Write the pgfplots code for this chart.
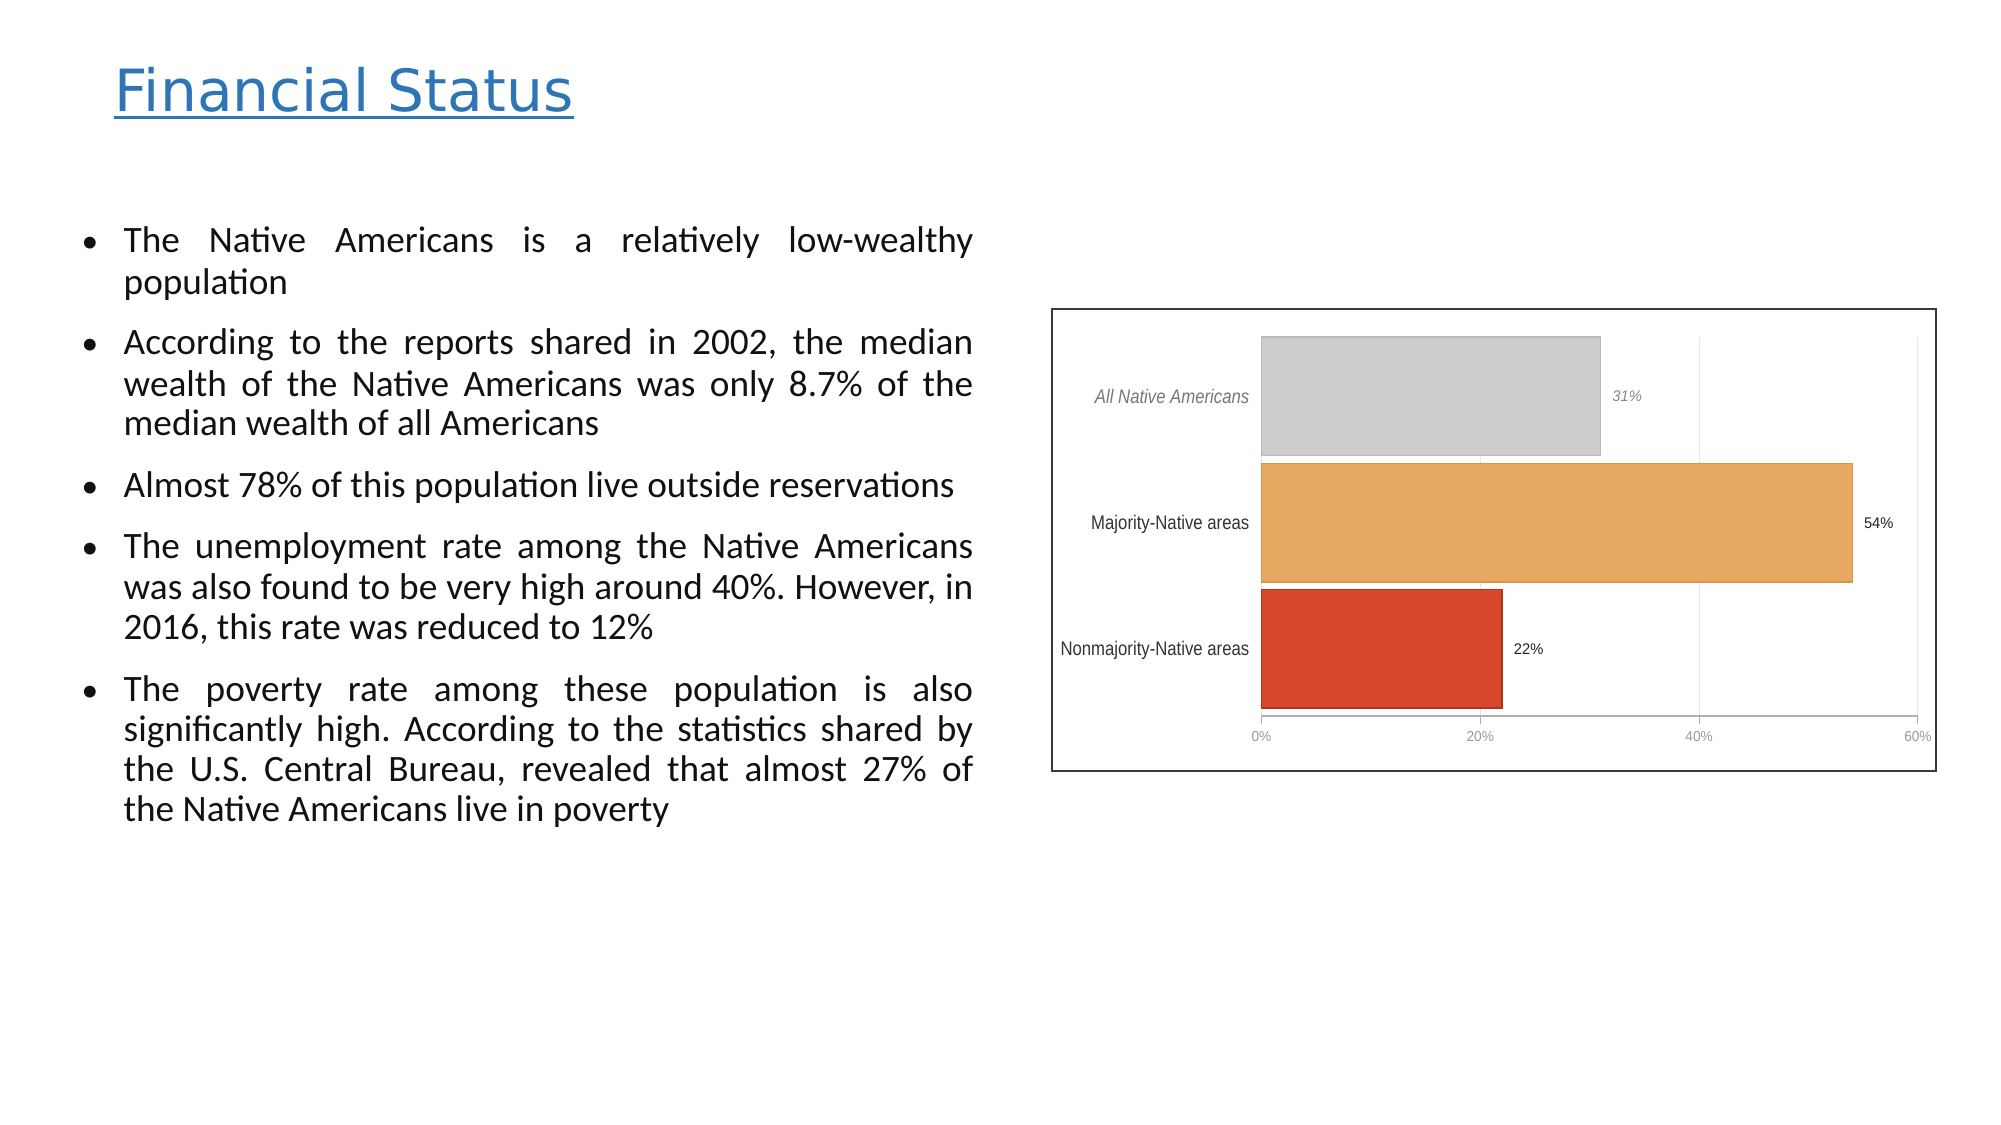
\documentclass[border=0pt]{standalone}
\usepackage{pgfplots}
\pgfplotsset{compat=1.18}
\usepackage{fontspec}
\setmainfont{Carlito}
\newfontfamily\titlefont{DejaVu Sans}
\newfontfamily\catfont[FakeStretch=0.85]{Liberation Sans}
\newfontfamily\valfont[FakeStretch=0.95]{Liberation Sans}
\definecolor{titleblue}{HTML}{2E75B6}
\definecolor{framecol}{HTML}{3A3A3A}
\definecolor{grayfill}{HTML}{CCCCCC}
\definecolor{grayedge}{HTML}{BBBBBB}
\definecolor{orangefill}{HTML}{E8A962}
\definecolor{orangeedge}{HTML}{D9964C}
\definecolor{redfill}{HTML}{D9472C}
\definecolor{rededge}{HTML}{B3341D}
\definecolor{gridgray}{HTML}{E6E6E6}
\definecolor{axisgray}{HTML}{B0B0B0}
\definecolor{tickgray}{HTML}{999999}
\definecolor{catgray}{HTML}{777777}
\definecolor{catdark}{HTML}{333333}
\definecolor{valgray}{HTML}{888888}
\definecolor{valdark}{HTML}{222222}
\definecolor{bodytext}{HTML}{111111}
\newcommand{\bodysize}{\fontsize{10.6pt}{11.4pt}\selectfont}
\newcommand{\jl}[1]{\makebox[84.95mm][s]{#1}}
\frenchspacing
\begin{document}
\begin{tikzpicture}
\begin{scope}[x=0.1mm,y=-0.1mm]
\fill[white] (0,0) rectangle (2001,1125);
\draw[framecol, line width=0.15mm] (1052,309) rectangle (1936,771);
\end{scope}
\begin{axis}[
  at={(126.15mm,-71.6mm)}, anchor=south west,
  scale only axis, width=65.65mm, height=37.9mm,
  xmin=0, xmax=60, ymin=-0.531, ymax=2.471,
  enlargelimits=false, clip=false,
  xbar, bar shift=0pt, bar width=11.85mm,
  axis x line=bottom, axis y line=left,
  axis line style={-, color=axisgray, line width=0.2mm},
  y axis line style={draw=none},
  ytick={0,1,2},
  yticklabels={Nonmajority-Native areas, Majority-Native areas, {\color{catgray}\itshape All Native Americans}},
  ytick style={draw=none},
  yticklabel style={font=\catfont\fontsize{5.6pt}{6.5pt}\selectfont, text=catdark, inner sep=0pt, anchor=base east, xshift=-0.75mm, yshift=-0.7mm},
  xtick={0,20,40,60},
  xticklabels={0\%,20\%,40\%,60\%},
  xtick align=outside,
  major tick length=0.8mm,
  xtick style={color=axisgray, line width=0.1mm},
  xticklabel style={font=\valfont\fontsize{4.1pt}{5pt}\selectfont, text=tickgray, inner sep=0pt, anchor=north, yshift=-0.65mm},
  xmajorgrids=true,
  major grid style={color=gridgray, line width=0.1mm},
  every node near coord/.append style={anchor=west, inner sep=0pt, xshift=1.1mm},
]
\addplot[fill=grayfill, draw=grayedge, line width=0.15mm,
  nodes near coords={31\%},
  every node near coord/.append style={font=\valfont\itshape\fontsize{4.4pt}{5pt}\selectfont, text=valgray}]
  coordinates {(31,2)};
\addplot[fill=orangefill, draw=orangeedge, line width=0.15mm,
  nodes near coords={54\%},
  every node near coord/.append style={font=\valfont\fontsize{4.4pt}{5pt}\selectfont, text=valdark}]
  coordinates {(54,1)};
\addplot[fill=redfill, draw=rededge, line width=0.15mm,
  nodes near coords={22\%},
  every node near coord/.append style={font=\valfont\fontsize{4.4pt}{5pt}\selectfont, text=valdark}]
  coordinates {(22,0)};
\end{axis}
\begin{scope}[x=0.1mm,y=-0.1mm]
\node[anchor=base west, inner sep=0pt, text=titleblue] at (114,112) {\titlefont\fontsize{16.55pt}{20pt}\selectfont Financial Status};
\draw[titleblue, line width=0.3mm] (114,118) -- (574,118);
\begin{scope}[every node/.style={anchor=base west, inner sep=0pt, text=bodytext, font=\bodysize}]
\foreach \yy in {253,355,497,558,701} {\node at (81,\yy) {\fontsize{9.5pt}{11pt}\selectfont\textbullet};}
\node at (123,253) {\jl{The Native Americans is a relatively low-wealthy}};
\node at (123,294) {population};
\node at (123,355) {\jl{According to the reports shared in 2002, the median}};
\node at (123,396) {\jl{wealth of the Native Americans was only 8.7\% of the}};
\node at (123,436) {median wealth of all Americans};
\node at (123,497) {Almost 78\% of this population live outside reservations};
\node at (123,558) {\jl{The unemployment rate among the Native Americans}};
\node at (123,599) {\jl{was also found to be very high around 40\%. However, in}};
\node at (123,639) {2016, this rate was reduced to 12\%};
\node at (123,701) {\jl{The poverty rate among these population is also}};
\node at (123,741) {\jl{significantly high. According to the statistics shared by}};
\node at (123,781) {\jl{the U.S. Central Bureau, revealed that almost 27\% of}};
\node at (123,821) {the Native Americans live in poverty};
\end{scope}
\end{scope}
\end{tikzpicture}
\end{document}
